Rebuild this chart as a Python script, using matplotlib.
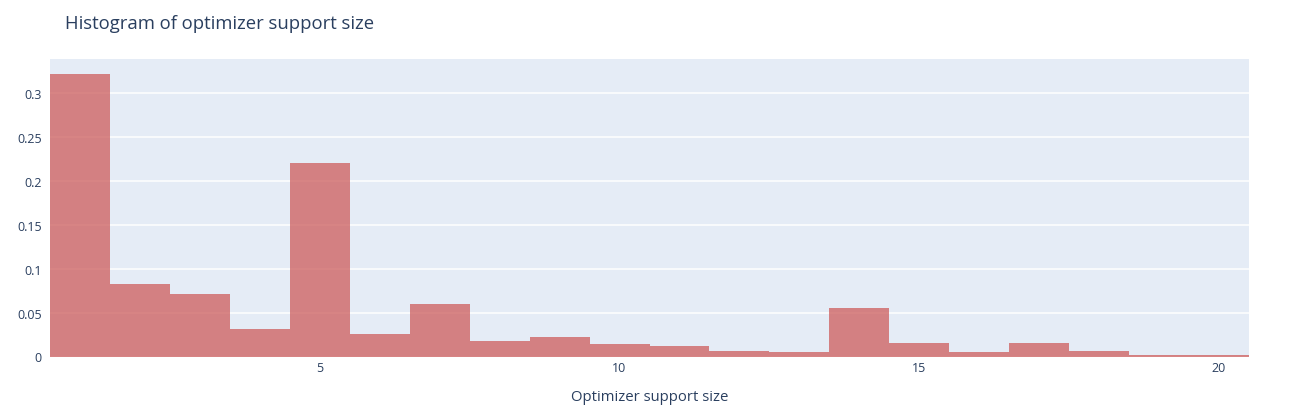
import matplotlib
matplotlib.use('Agg')
import matplotlib.pyplot as plt

# support sizes and normalized frequencies
sizes = [1, 2, 3, 4, 5, 6, 7, 8, 9, 10, 11, 12, 13, 14, 15, 16, 17, 18, 19, 20]
freqs = [0.322, 0.0828, 0.0714, 0.0315, 0.2206, 0.0258, 0.060, 0.0179, 0.0224, 0.0145,
         0.0122, 0.0065, 0.0054, 0.0555, 0.0156, 0.0054, 0.0156, 0.0065, 0.0019, 0.0019]
yticks = [0, 0.05, 0.1, 0.15, 0.2, 0.25, 0.3]
ytick_labels = ['0', '0.05', '0.1', '0.15', '0.2', '0.25', '0.3']
xticks = [5, 10, 15, 20]

plt.rcParams['font.family'] = ['Open Sans', 'DejaVu Sans']
txt = '#2a3f5f'

fig = plt.figure(figsize=(12.99, 4.10), dpi=100)
ax = fig.add_axes([50 / 1299, 52.5 / 410, 1199 / 1299, 297.5 / 410])
ax.set_facecolor('#e5ecf6')

ax.bar(sizes, freqs, width=1.0, color='indianred', alpha=0.75, linewidth=0, zorder=2)

ax.set_xlim(0.5, 20.5)
ax.set_ylim(0, 0.3387)
ax.set_yticks(yticks)
ax.set_yticklabels(ytick_labels)
ax.set_xticks(xticks)
ax.grid(axis='y', color='white', linewidth=1.1, zorder=1)
ax.set_axisbelow(True)
for s in ax.spines.values():
    s.set_visible(False)
ax.tick_params(length=0, labelsize=9, colors=txt, pad=6)
ax.tick_params(axis='x', pad=3)

ax.set_xlabel('Optimizer support size', fontsize=10.7, color=txt, labelpad=11)
fig.text(65 / 1299, 1 - 24 / 410, 'Histogram of optimizer support size',
         fontsize=13.3, color=txt, va='center', ha='left')

fig.savefig('out.png', dpi=100)
